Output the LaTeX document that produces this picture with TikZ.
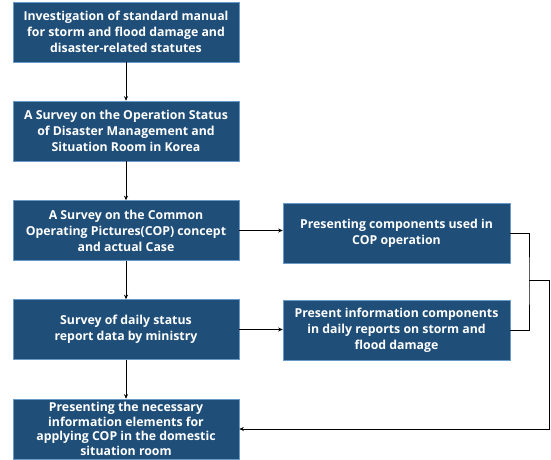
\documentclass[tikz,border=0pt]{standalone}
\usepackage{fontspec}
\setmainfont{Open Sans}
\usetikzlibrary{arrows.meta,positioning}
\definecolor{boxblue}{HTML}{1F4E79}
\definecolor{edgeblue}{HTML}{6A9BC8}

\begin{document}
\begin{tikzpicture}[x=1pt,y=-1pt,>={Stealth[length=4.5pt,width=4pt]}]
\tikzset{
  box/.style={draw=edgeblue, line width=0.6pt, fill=boxblue, text=white, align=center,
    font=\bfseries\fontsize{12.3}{16}\selectfont, minimum width=226pt, minimum height=60pt, inner sep=2pt},
  flow/.style={->, line width=1pt},
  link/.style={line width=1pt}
}
\useasboundingbox (0,0) rectangle (551,459);
% ---------- left column ----------
\node[box] (manual) at (126,32) {Investigation of standard manual\\for storm and flood damage and\\disaster-related statutes};
\node[box] (room) at (126,131) {A Survey on the Operation Status\\of Disaster Management and\\Situation Room in Korea};
\node[box] (cop) at (126,230.5) {A Survey on the Common\\Operating Pictures(COP) concept\\and actual Case};
\node[box] (daily) at (126,329.5) {Survey of daily status\\report data by ministry};
\node[box, font=\bfseries\fontsize{12.3}{14.6}\selectfont] (elem) at (126,429) {Presenting the necessary\\information elements for\\applying COP in the domestic\\situation room};
% ---------- right column ----------
\node[box, minimum width=227pt] (copcomp) at (396.5,233.5) {Presenting components used in\\COP operation};
\node[box, minimum width=227pt] (repcomp) at (396.5,330) {Present information components\\in daily reports on storm and\\flood damage};
% ---------- connectors ----------
\draw[flow] (manual) -- (room);
\draw[flow] (room) -- (cop);
\draw[flow] (cop) -- (daily);
\draw[flow] (daily) -- (elem);
\draw[flow] (cop.east) -- (copcomp.west |- cop.east);
\draw[flow] (daily.east) -- (repcomp.west |- daily.east);
\coordinate (join) at (529,280);
\coordinate (back) at (549,280);
\draw[link] (copcomp.east) -| (join) |- (repcomp.east);
\draw[flow] (join) -- (back) |- (elem.east);
\end{tikzpicture}
\end{document}
